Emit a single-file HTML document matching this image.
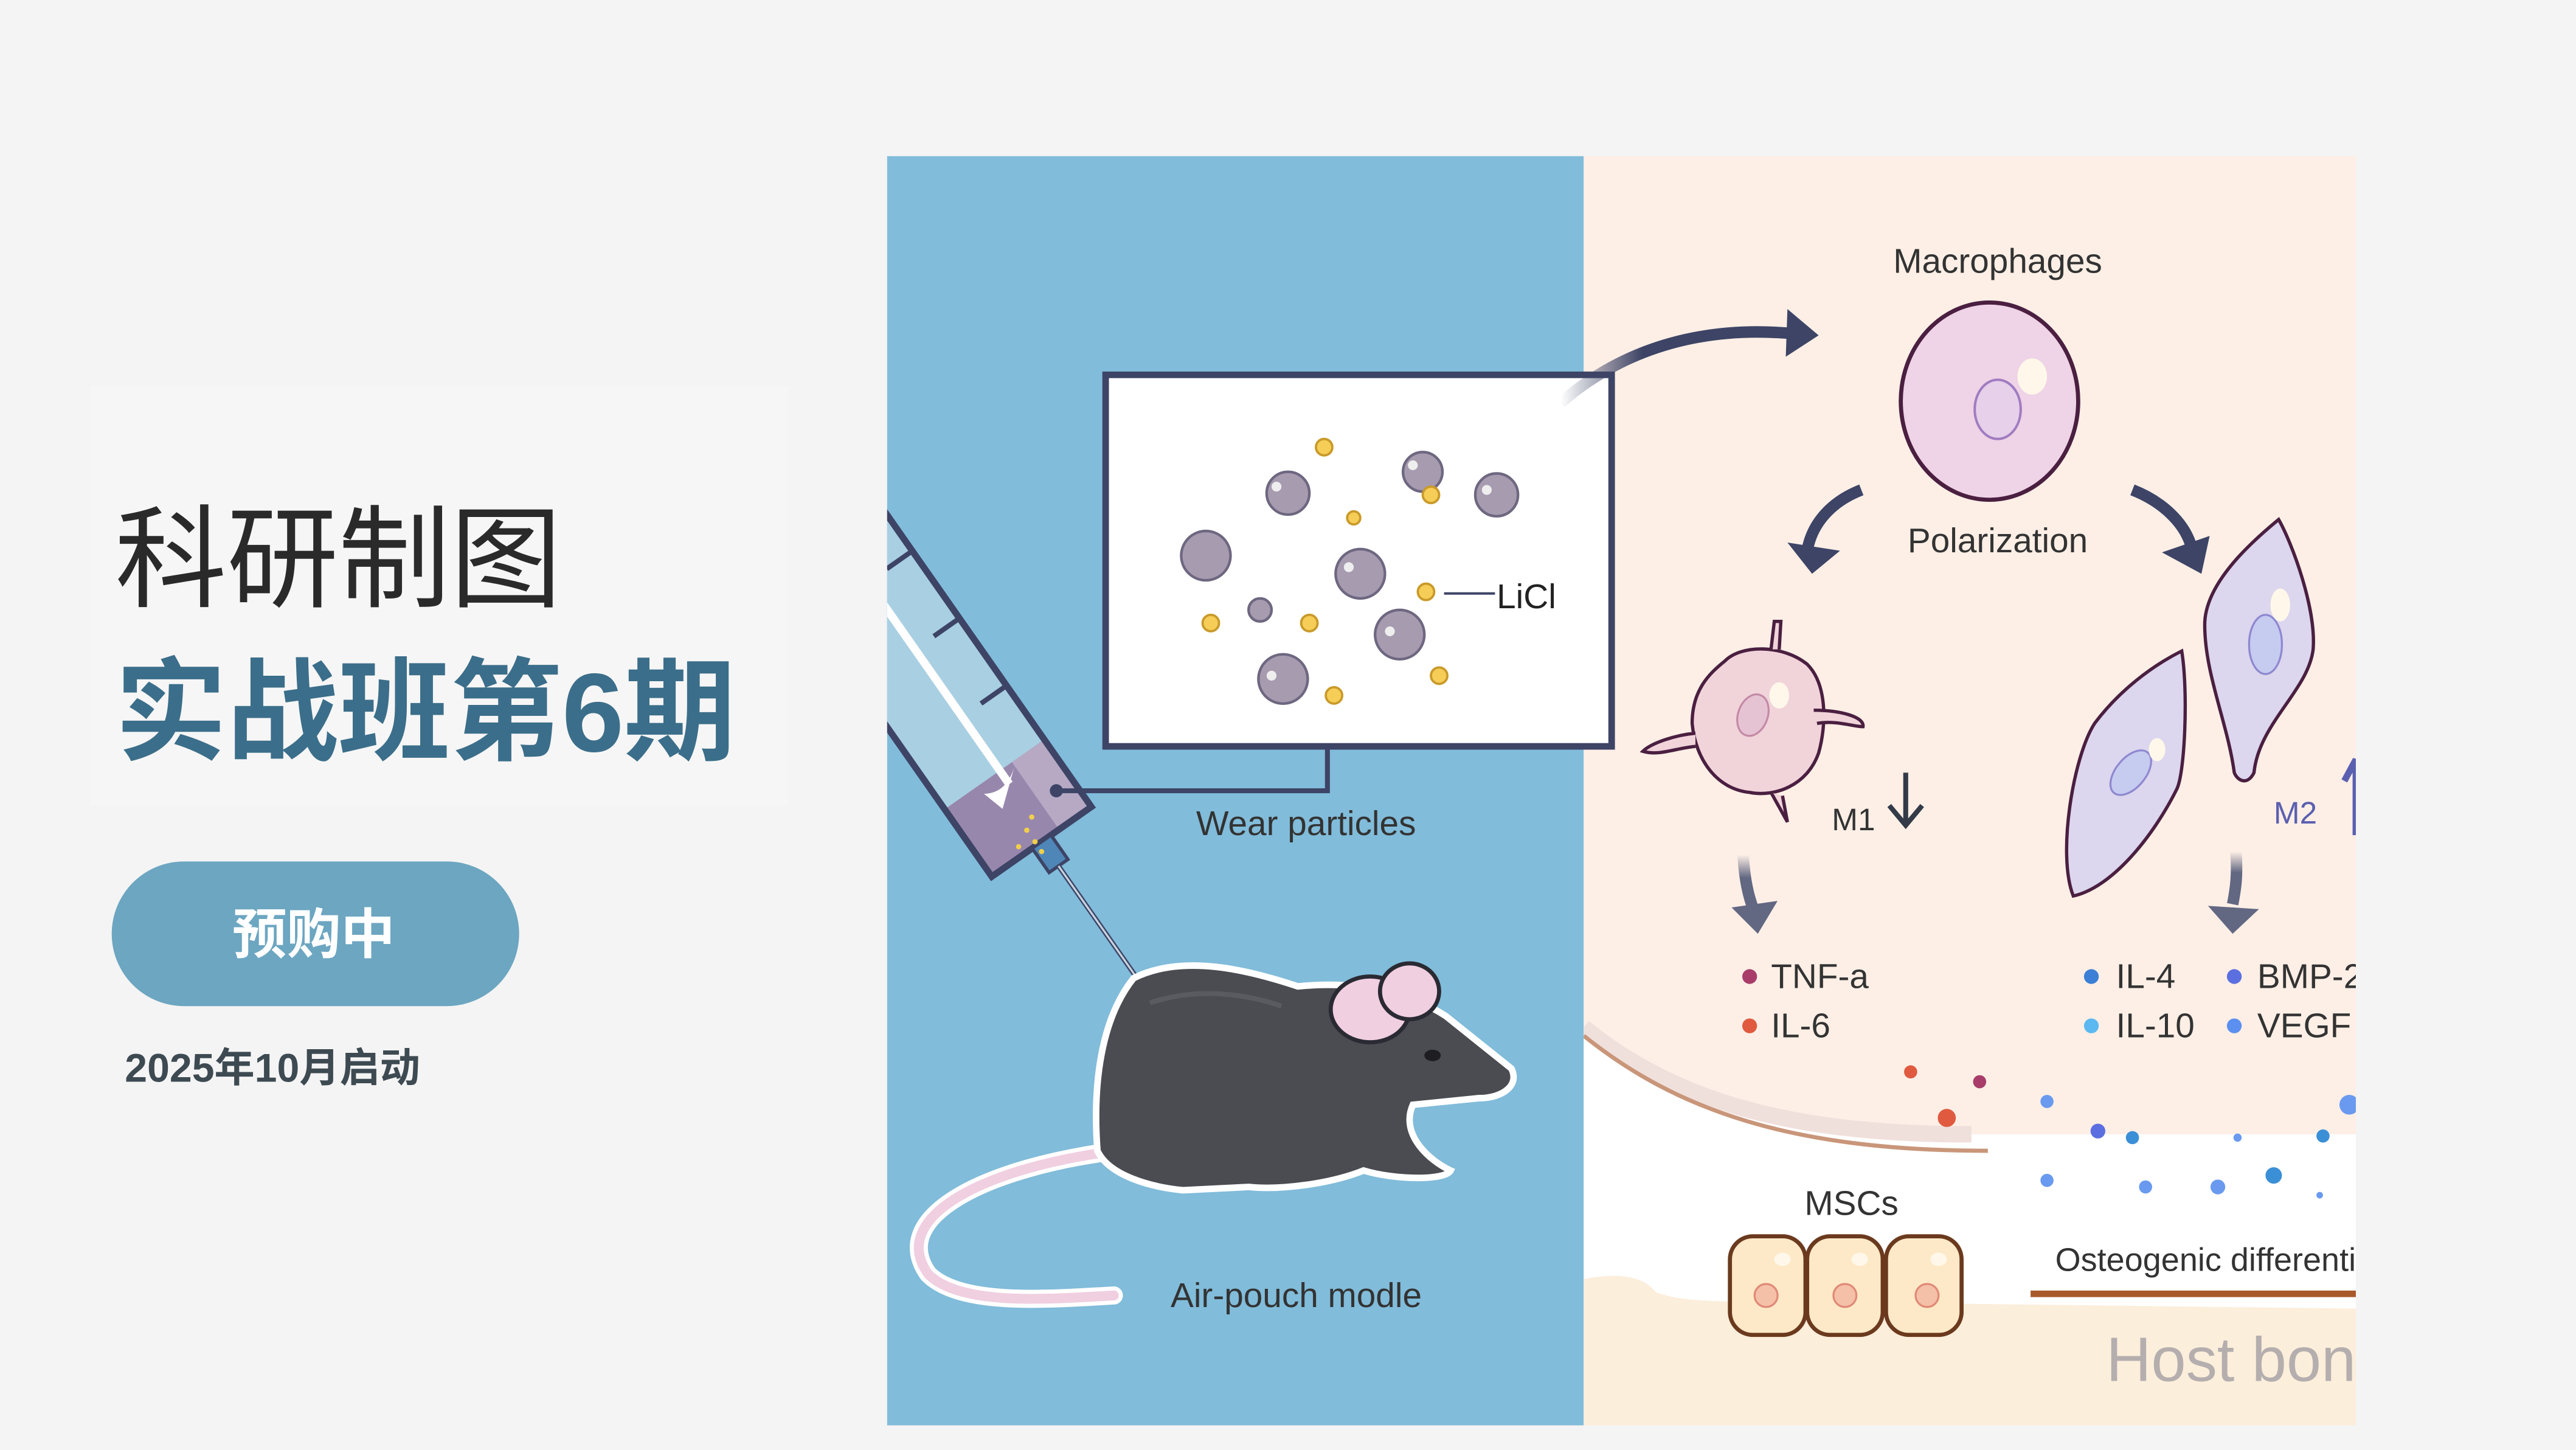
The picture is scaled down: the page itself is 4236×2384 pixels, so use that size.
<!DOCTYPE html>
<html><head><meta charset="utf-8"><style>
html,body{margin:0;padding:0;background:#f4f4f4;width:4236px;height:2384px;overflow:hidden}
svg{display:block}
</style></head><body>
<svg width="4236" height="2384" viewBox="0 0 1568 882" preserveAspectRatio="none" xmlns="http://www.w3.org/2000/svg" font-family="'Liberation Sans','Noto Sans CJK SC',sans-serif">
<defs>
<clipPath id="blue"><rect x="540" y="95" width="424" height="772"/></clipPath>
<clipPath id="peach"><rect x="964" y="95" width="470" height="772"/></clipPath>
<linearGradient id="fadeL" x1="0" y1="0" x2="1" y2="0"><stop offset="0" stop-color="#3d4466" stop-opacity="0"/><stop offset="0.35" stop-color="#3d4466"/></linearGradient>
<linearGradient id="fadeD" x1="0" y1="0" x2="0" y2="1"><stop offset="0" stop-color="#626782" stop-opacity="0"/><stop offset="0.4" stop-color="#626782"/></linearGradient>
</defs>
<rect width="1568" height="882" fill="#f4f4f4"/>
<rect x="55" y="235" width="425" height="255" fill="#f6f6f6"/>
<text x="70" y="364" font-size="68" fill="#2a2a2a">科研制图</text>
<text x="70" y="457" font-size="68" font-weight="bold" fill="#3b6e8a">实战班第6期</text>
<rect x="68" y="524" width="248" height="88" rx="44" fill="#6ca6c1"/>
<text x="191" y="580" font-size="33" font-weight="bold" fill="#fff" text-anchor="middle">预购中</text>
<text x="76" y="658" font-size="24.5" font-weight="bold" fill="#3e4a52">2025年10月启动</text>

<!-- blue panel -->
<rect x="540" y="95" width="424" height="772" fill="#81bcda"/>
<g clip-path="url(#blue)">
 <g transform="translate(634,512) rotate(55)">
  <rect x="-420" y="-37" width="420" height="74" fill="#a9cfe2"/>
  <rect x="-50" y="-37" width="50" height="74" fill="#9887ad"/>
  <rect x="-50" y="-37" width="50" height="24" fill="#b7a9c4"/>
  <rect x="-420" y="-37" width="420" height="74" fill="none" stroke="#3d4466" stroke-width="4"/>
  <line x1="-420" y1="-4" x2="-40" y2="-4" stroke="#fff" stroke-width="5"/>
  <path d="M-48,-14 q12,14 4,26 l14,-4 z" fill="#fff"/>
  <line x1="-90" y1="-37" x2="-90" y2="-18" stroke="#3d4466" stroke-width="3"/>
  <line x1="-140" y1="-37" x2="-140" y2="-18" stroke="#3d4466" stroke-width="3"/>
  <line x1="-190" y1="-37" x2="-190" y2="-18" stroke="#3d4466" stroke-width="3"/>
  <line x1="-240" y1="-37" x2="-240" y2="-18" stroke="#3d4466" stroke-width="3"/>
  <rect x="0" y="-7" width="18" height="14" fill="#4f86b8" stroke="#3d4466" stroke-width="2"/>
  <line x1="18" y1="0" x2="120" y2="0" stroke="#3d4466" stroke-width="3"/>
  <line x1="18" y1="0" x2="120" y2="0" stroke="#c8d4e0" stroke-width="1.2"/>
 </g>
 <g fill="#f2cf4a"><circle cx="625" cy="505" r="1.6"/><circle cx="630" cy="512" r="1.6"/><circle cx="620" cy="515" r="1.6"/><circle cx="634" cy="518" r="1.6"/><circle cx="628" cy="497" r="1.6"/></g>
 <!-- tail -->
 <path d="M680,700 C600,710 540,740 565,775 C585,795 640,790 678,788" fill="none" stroke="#fff" stroke-width="11" stroke-linecap="round"/>
 <path d="M680,700 C600,710 540,740 565,775 C585,795 640,790 678,788" fill="none" stroke="#f0cfe0" stroke-width="6" stroke-linecap="round"/>
 <!-- mouse body -->
 <path d="M690,595 C720,580 760,590 790,600 C830,596 860,605 880,618 L920,650 C925,660 915,668 900,668 L860,672 C852,690 870,706 883,712 C880,718 850,718 830,712 C810,720 780,724 760,722 L720,724 C700,722 675,715 668,700 C665,660 670,620 690,595 Z" fill="#4b4c51" stroke="#fff" stroke-width="4"/>
 <path d="M700,610 C730,600 760,605 780,612" fill="none" stroke="#5a5b60" stroke-width="3"/>
 <ellipse cx="834" cy="614" rx="24" ry="20" fill="#f0cfe0" stroke="#2a2a33" stroke-width="2.5"/>
 <ellipse cx="858" cy="603" rx="18" ry="17" fill="#f0cfe0" stroke="#2a2a33" stroke-width="2.5"/>
 <ellipse cx="872" cy="642" rx="5" ry="3.5" fill="#1e1e22"/>
</g>
<text x="795" y="508" font-size="21" fill="#333" text-anchor="middle">Wear particles</text>
<text x="789" y="795" font-size="21" fill="#333" text-anchor="middle">Air-pouch modle</text>

<!-- peach panel -->
<rect x="964" y="95" width="470" height="772" fill="#fdefe6"/>
<g clip-path="url(#peach)">
 <path d="M964,625 C1020,670 1090,690 1200,690 L1434,690 L1434,867 L964,867 Z" fill="#fff"/>
 <path d="M964,625 C1020,670 1090,690 1200,690" fill="none" stroke="#f0e0dc" stroke-width="10"/>
 <path d="M964,630 C1020,675 1090,700 1210,700" fill="none" stroke="#c9967a" stroke-width="2.5"/>
 <path d="M964,778 C985,774 1000,776 1008,786 C1030,795 1080,790 1110,792 L1434,796 L1434,867 L964,867 Z" fill="#fbeedb"/>
 <text x="1216" y="166" font-size="21" fill="#333" text-anchor="middle">Macrophages</text>
 <text x="1216" y="336" font-size="21" fill="#333" text-anchor="middle">Polarization</text>
 <!-- macrophage -->
 <ellipse cx="1211" cy="244" rx="54" ry="60" fill="#efd3e6" stroke="#4a1f40" stroke-width="2.5"/>
 <ellipse cx="1216" cy="249" rx="14" ry="18" fill="#e6d0ea" stroke="#a07cc0" stroke-width="1.5"/>
 <ellipse cx="1237" cy="229" rx="9" ry="11" fill="#fff8ea"/>
 <!-- curved arrows -->
 <path d="M1133,298 C1115,305 1103,318 1100,335" fill="none" stroke="#3d4466" stroke-width="7"/>
 <path d="M1088,330 L1103,349 L1120,335 Z" fill="#3d4466"/>
 <path d="M1298,298 C1316,305 1330,318 1334,333" fill="none" stroke="#3d4466" stroke-width="7"/>
 <path d="M1316,336 L1340,349 L1345,326 Z" fill="#3d4466"/>
 <!-- M1 cell -->
 <g stroke="#4a1f40" stroke-width="2" fill="#f0d4da">
  <path d="M1050,402 C1060,392 1085,392 1100,404 C1112,416 1112,440 1107,458 C1100,478 1080,485 1065,482 C1045,480 1032,462 1030,440 C1030,420 1040,410 1050,402 Z"/>
  <path d="M1078,395 L1080,378 L1084,378 L1083,395" />
  <path d="M1104,432 C1120,432 1135,436 1134,442 C1128,442 1118,438 1106,440"/>
  <path d="M1032,446 C1020,447 1005,452 1000,457 C1010,460 1020,455 1032,454"/>
  <path d="M1078,482 L1088,500 L1085,484"/>
 </g>
 <ellipse cx="1067" cy="435" rx="9" ry="13" fill="#e6c3d3" stroke="#c48aa6" stroke-width="1.2" transform="rotate(20 1067 435)"/>
 <ellipse cx="1083" cy="423" rx="6" ry="8" fill="#fff8ea"/>
 <text x="1115" y="505" font-size="19" fill="#333">M1</text>
 <path d="M1160,470 V500 M1150,490 L1160,502 L1170,490" fill="none" stroke="#333a48" stroke-width="3"/>
 <!-- M2 cells -->
 <path d="M1328,396 C1332,420 1330,470 1325,480 C1310,510 1285,540 1262,545 C1252,520 1262,460 1275,440 C1290,420 1310,405 1328,396 Z" fill="#dcd6ee" stroke="#4a1f40" stroke-width="2"/>
 <ellipse cx="1297" cy="470" rx="9" ry="16" fill="#c6cbf0" stroke="#8e88d0" stroke-width="1.2" transform="rotate(40 1297 470)"/>
 <ellipse cx="1313" cy="456" rx="5" ry="7" fill="#fff8ea"/>
 <path d="M1387,316 C1395,330 1410,370 1408,395 C1405,420 1375,440 1372,470 C1368,478 1362,475 1360,470 C1356,440 1342,410 1342,380 C1342,355 1370,330 1387,316 Z" fill="#dcd6ee" stroke="#4a1f40" stroke-width="2"/>
 <ellipse cx="1379" cy="392" rx="10" ry="18" fill="#c6cbf0" stroke="#8e88d0" stroke-width="1.2"/>
 <ellipse cx="1388" cy="368" rx="6" ry="10" fill="#fff8ea"/>
 <text x="1384" y="501" font-size="19" fill="#5a5fb0">M2</text>
 <path d="M1427,475 L1434,462 V508" fill="none" stroke="#5a5fb0" stroke-width="4"/>
 <!-- down arrows -->
 <path d="M1061,520 C1062,535 1064,545 1068,555" fill="none" stroke="url(#fadeD)" stroke-width="7"/>
 <path d="M1054,552 L1070,568 L1082,548 Z" fill="#626782"/>
 <path d="M1361,518 C1362,532 1361,540 1359,550" fill="none" stroke="url(#fadeD)" stroke-width="7"/>
 <path d="M1344,551 L1359,568 L1375,553 Z" fill="#626782"/>
 <!-- cytokines -->
 <g font-size="21" fill="#333">
  <circle cx="1065" cy="594" r="4.5" fill="#a83d6a"/><text x="1078" y="601">TNF-a</text>
  <circle cx="1065" cy="624" r="4.5" fill="#e05a3f"/><text x="1078" y="631">IL-6</text>
  <circle cx="1273" cy="594" r="4.5" fill="#3b7fd6"/><text x="1288" y="601">IL-4</text>
  <circle cx="1273" cy="624" r="4.5" fill="#5bb8f0"/><text x="1288" y="631">IL-10</text>
  <circle cx="1360" cy="594" r="4.5" fill="#5b6fe0"/><text x="1374" y="601">BMP-2</text>
  <circle cx="1360" cy="624" r="4.5" fill="#5b8ff0"/><text x="1374" y="631">VEGF</text>
 </g>
 <g>
  <circle cx="1163" cy="652" r="4" fill="#e05a3f"/><circle cx="1205" cy="658" r="4" fill="#a83d6a"/><circle cx="1185" cy="680" r="5.5" fill="#e05a3f"/>
  <circle cx="1246" cy="670" r="4" fill="#6a9af0"/><circle cx="1277" cy="688" r="4.5" fill="#5b6fe0"/><circle cx="1298" cy="692" r="4" fill="#3b8fd6"/>
  <circle cx="1362" cy="692" r="2.5" fill="#6a9af0"/><circle cx="1414" cy="691" r="4" fill="#3b8fd6"/><circle cx="1430" cy="672" r="6" fill="#6a9af0"/>
  <circle cx="1246" cy="718" r="4" fill="#6a9af0"/><circle cx="1306" cy="722" r="4" fill="#6a9af0"/><circle cx="1350" cy="722" r="4.5" fill="#6a9af0"/><circle cx="1384" cy="715" r="5" fill="#3b8fd6"/><circle cx="1412" cy="727" r="2" fill="#6a9af0"/>
 </g>
 <text x="1127" y="739" font-size="21" fill="#333" text-anchor="middle">MSCs</text>
 <g fill="#fde9c7" stroke="#6b3a1e" stroke-width="2.5">
  <rect x="1053" y="752" width="46" height="60" rx="14"/><rect x="1100" y="752" width="46" height="60" rx="14"/><rect x="1148" y="752" width="46" height="60" rx="14"/>
 </g>
 <g fill="#f5c0a8" stroke="#e08a78" stroke-width="1.2"><circle cx="1075" cy="788" r="7"/><circle cx="1123" cy="788" r="7"/><circle cx="1173" cy="788" r="7"/></g>
 <g fill="#fff8ea"><ellipse cx="1085" cy="766" rx="5" ry="4"/><ellipse cx="1132" cy="766" rx="5" ry="4"/><ellipse cx="1180" cy="766" rx="5" ry="4"/></g>
 <text x="1251" y="773" font-size="20" fill="#333">Osteogenic differentiation</text>
 <line x1="1236" y1="787" x2="1434" y2="787" stroke="#a95a2a" stroke-width="4"/>
 <text x="1282" y="840" font-size="38" fill="#b5aeae">Host bone</text>
</g>

<!-- wear box (on top) -->
<rect x="673" y="228" width="308" height="226" fill="#fff" stroke="#3d4466" stroke-width="4"/>
<path d="M808,454 V481 H643" fill="none" stroke="#3d4466" stroke-width="3"/>
<circle cx="643" cy="481" r="4" fill="#3d4466"/>
<g fill="#a79bb0" stroke="#6e6780" stroke-width="1.6">
 <circle cx="734" cy="338" r="15"/><circle cx="784" cy="300" r="13"/><circle cx="866" cy="287" r="12"/><circle cx="911" cy="301" r="13"/><circle cx="828" cy="349" r="15"/><circle cx="852" cy="386" r="15"/><circle cx="767" cy="371" r="7"/><circle cx="781" cy="413" r="15"/>
</g>
<g fill="#eee"><circle cx="777" cy="296" r="3"/><circle cx="860" cy="283" r="3"/><circle cx="905" cy="298" r="3"/><circle cx="821" cy="345" r="3"/><circle cx="846" cy="384" r="3"/><circle cx="774" cy="411" r="3"/></g>
<g fill="#f5cd57" stroke="#c99a2a" stroke-width="1.4">
 <circle cx="806" cy="272" r="5"/><circle cx="824" cy="315" r="4"/><circle cx="871" cy="301" r="5"/><circle cx="868" cy="360" r="5"/><circle cx="737" cy="379" r="5"/><circle cx="797" cy="379" r="5"/><circle cx="876" cy="411" r="5"/><circle cx="812" cy="423" r="5"/>
</g>
<line x1="879" y1="361" x2="910" y2="361" stroke="#3d4466" stroke-width="1.5"/>
<text x="911" y="370" font-size="21" fill="#222">LiCl</text>

<path d="M950,245 C990,210 1040,198 1092,203" fill="none" stroke="url(#fadeL)" stroke-width="7"/>
<path d="M1088,188 L1107,204 L1087,217 Z" fill="#3d4466"/>
</svg>
</body></html>
